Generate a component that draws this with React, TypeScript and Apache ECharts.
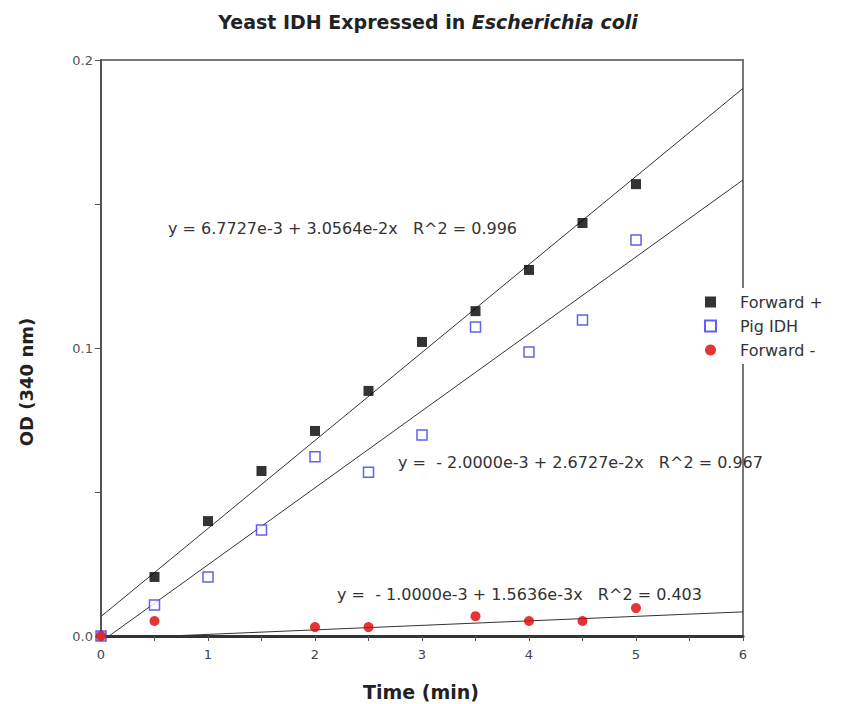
import React, { useEffect, useRef } from "react";
import * as echarts from "echarts";

const timeForward = [0, 0.5, 1, 1.5, 2, 2.5, 3, 3.5, 4, 4.5, 5];
const odForwardPlus = [0, 0.0205, 0.0399, 0.0573, 0.0712, 0.0851, 0.1021, 0.1128, 0.1271, 0.1434, 0.1569];

const timePig = [0, 0.5, 1, 1.5, 2, 2.5, 3, 3.5, 4, 4.5, 5];
const odPigIDH = [0, 0.0108, 0.0205, 0.0368, 0.0622, 0.0569, 0.0698, 0.1073, 0.0986, 0.1097, 0.1375];

const timeMinus = [0, 0.5, 2, 2.5, 3.5, 4, 4.5, 5];
const odForwardMinus = [0, 0.0052, 0.0031, 0.0031, 0.0069, 0.0052, 0.0052, 0.0097];

const seriesNames = ["Forward +", "Pig IDH", "Forward -"];
const fitIntercepts = [6.7727e-3, -2.0e-3, -1.0e-3];
const fitSlopes = [3.0564e-2, 2.6727e-2, 1.5636e-3];
const fitRange = [0, 6];
const equationTexts = [
  "y = 6.7727e-3 + 3.0564e-2x   R^2 = 0.996",
  "y =  - 2.0000e-3 + 2.6727e-2x   R^2 = 0.967",
  "y =  - 1.0000e-3 + 1.5636e-3x   R^2 = 0.403",
];
const equationPos = [
  [168, 228],
  [398, 462],
  [337, 594],
];

const FONT = "'DejaVu Sans', sans-serif";

export default function App() {
  const ref = useRef<HTMLDivElement>(null);
  useEffect(() => {
    document.body.style.margin = "0";
    const chart = echarts.init(ref.current!, null, { renderer: "svg" });
    const pts = (xs: number[], ys: number[]) => xs.map((x, i) => [x, ys[i]]);
    const fitLine = (i: number) =>
      fitRange.map((x) => [x, fitIntercepts[i] + fitSlopes[i] * x]);

    const fitSeries = [0, 1, 2].map((i) => ({
      type: "line",
      name: "fit" + i,
      data: fitLine(i),
      showSymbol: false,
      symbol: "none",
      silent: true,
      z: 1,
      lineStyle: { color: "#333", width: 1 },
    }));

    chart.setOption({
      animation: false,
      backgroundColor: "#fff",
      textStyle: { fontFamily: FONT },
      title: {
        text: "{a|Yeast IDH Expressed in }{b|Escherichia coli}",
        left: 423,
        textAlign: "center",
        top: 7,
        textStyle: {
          rich: {
            a: { fontFamily: FONT, fontWeight: "bold", fontSize: 19, color: "#222" },
            b: { fontFamily: FONT, fontWeight: "bold", fontStyle: "italic", fontSize: 19, color: "#222" },
          },
        },
      },
      grid: {
        left: 101,
        right: 100,
        top: 60,
        bottom: 68,
        show: true,
        borderColor: "#777",
        borderWidth: 2,
        backgroundColor: "transparent",
      },
      legend: {
        data: seriesNames,
        orient: "vertical",
        left: 700,
        top: 288,
        itemWidth: 11,
        itemHeight: 11,
        itemGap: 8,
        backgroundColor: "#fff",
        padding: [6, 10, 6, 4],
        textStyle: { fontFamily: FONT, fontSize: 16, color: "#333", padding: [0, 0, 0, 19] },
        selectedMode: false,
      },
      xAxis: {
        type: "value",
        min: 0,
        max: 6,
        interval: 1,
        splitLine: { show: false },
        axisLine: { lineStyle: { color: "#333", width: 3 } },
        axisTick: { length: 5, lineStyle: { color: "#555", width: 1 } },
        minorTick: { show: true, splitNumber: 2, length: 5, lineStyle: { color: "#555", width: 1 } },
        minorSplitLine: { show: false },
        axisLabel: { color: "#444", fontSize: 13, margin: 12, fontFamily: FONT },
      },
      yAxis: {
        type: "value",
        min: 0,
        max: 0.2,
        interval: 0.05,
        splitLine: { show: false },
        axisLine: { lineStyle: { color: "#555", width: 2 } },
        axisTick: { length: 6, lineStyle: { color: "#555", width: 1 } },
        axisLabel: {
          color: "#555",
          fontSize: 13,
          margin: 8,
          fontFamily: FONT,
          formatter: (v: number) =>
            Math.abs(v * 10 - Math.round(v * 10)) < 1e-6 ? v.toFixed(1) : "",
        },
      },
      graphic: [
        ...equationTexts.map((t, i) => ({
          type: "text",
          x: equationPos[i][0],
          y: equationPos[i][1],
          z: 10,
          style: {
            text: t,
            font: "16px " + FONT,
            fill: "#333",
            verticalAlign: "middle",
            align: "left",
          },
        })),
        {
          type: "text",
          x: 26,
          y: 382,
          rotation: Math.PI / 2,
          style: {
            text: "OD (340 nm)",
            font: "bold 18px " + FONT,
            fill: "#222",
            align: "center",
            verticalAlign: "middle",
          },
        },
        {
          type: "text",
          x: 421,
          y: 692,
          style: {
            text: "Time (min)",
            font: "bold 19px " + FONT,
            fill: "#222",
            align: "center",
            verticalAlign: "middle",
          },
        },
      ],
      series: [
        ...fitSeries,
        {
          type: "scatter",
          name: seriesNames[0],
          data: pts(timeForward, odForwardPlus),
          symbol: "rect",
          symbolSize: 10,
          z: 3,
          itemStyle: { color: "#000" },
        },
        {
          type: "scatter",
          name: seriesNames[1],
          data: pts(timePig, odPigIDH),
          symbol: "rect",
          symbolSize: 10,
          z: 3,
          itemStyle: { color: "#fff", borderColor: "#3a3ae8", borderWidth: 1.5 },
        },
        {
          type: "scatter",
          name: seriesNames[2],
          data: pts(timeMinus, odForwardMinus),
          symbol: "circle",
          symbolSize: 10,
          z: 4,
          itemStyle: { color: "#e00000" },
        },
      ],
    });
    return () => chart.dispose();
  }, []);
  return <div ref={ref} style={{ width: 843, height: 704 }} />;
}
